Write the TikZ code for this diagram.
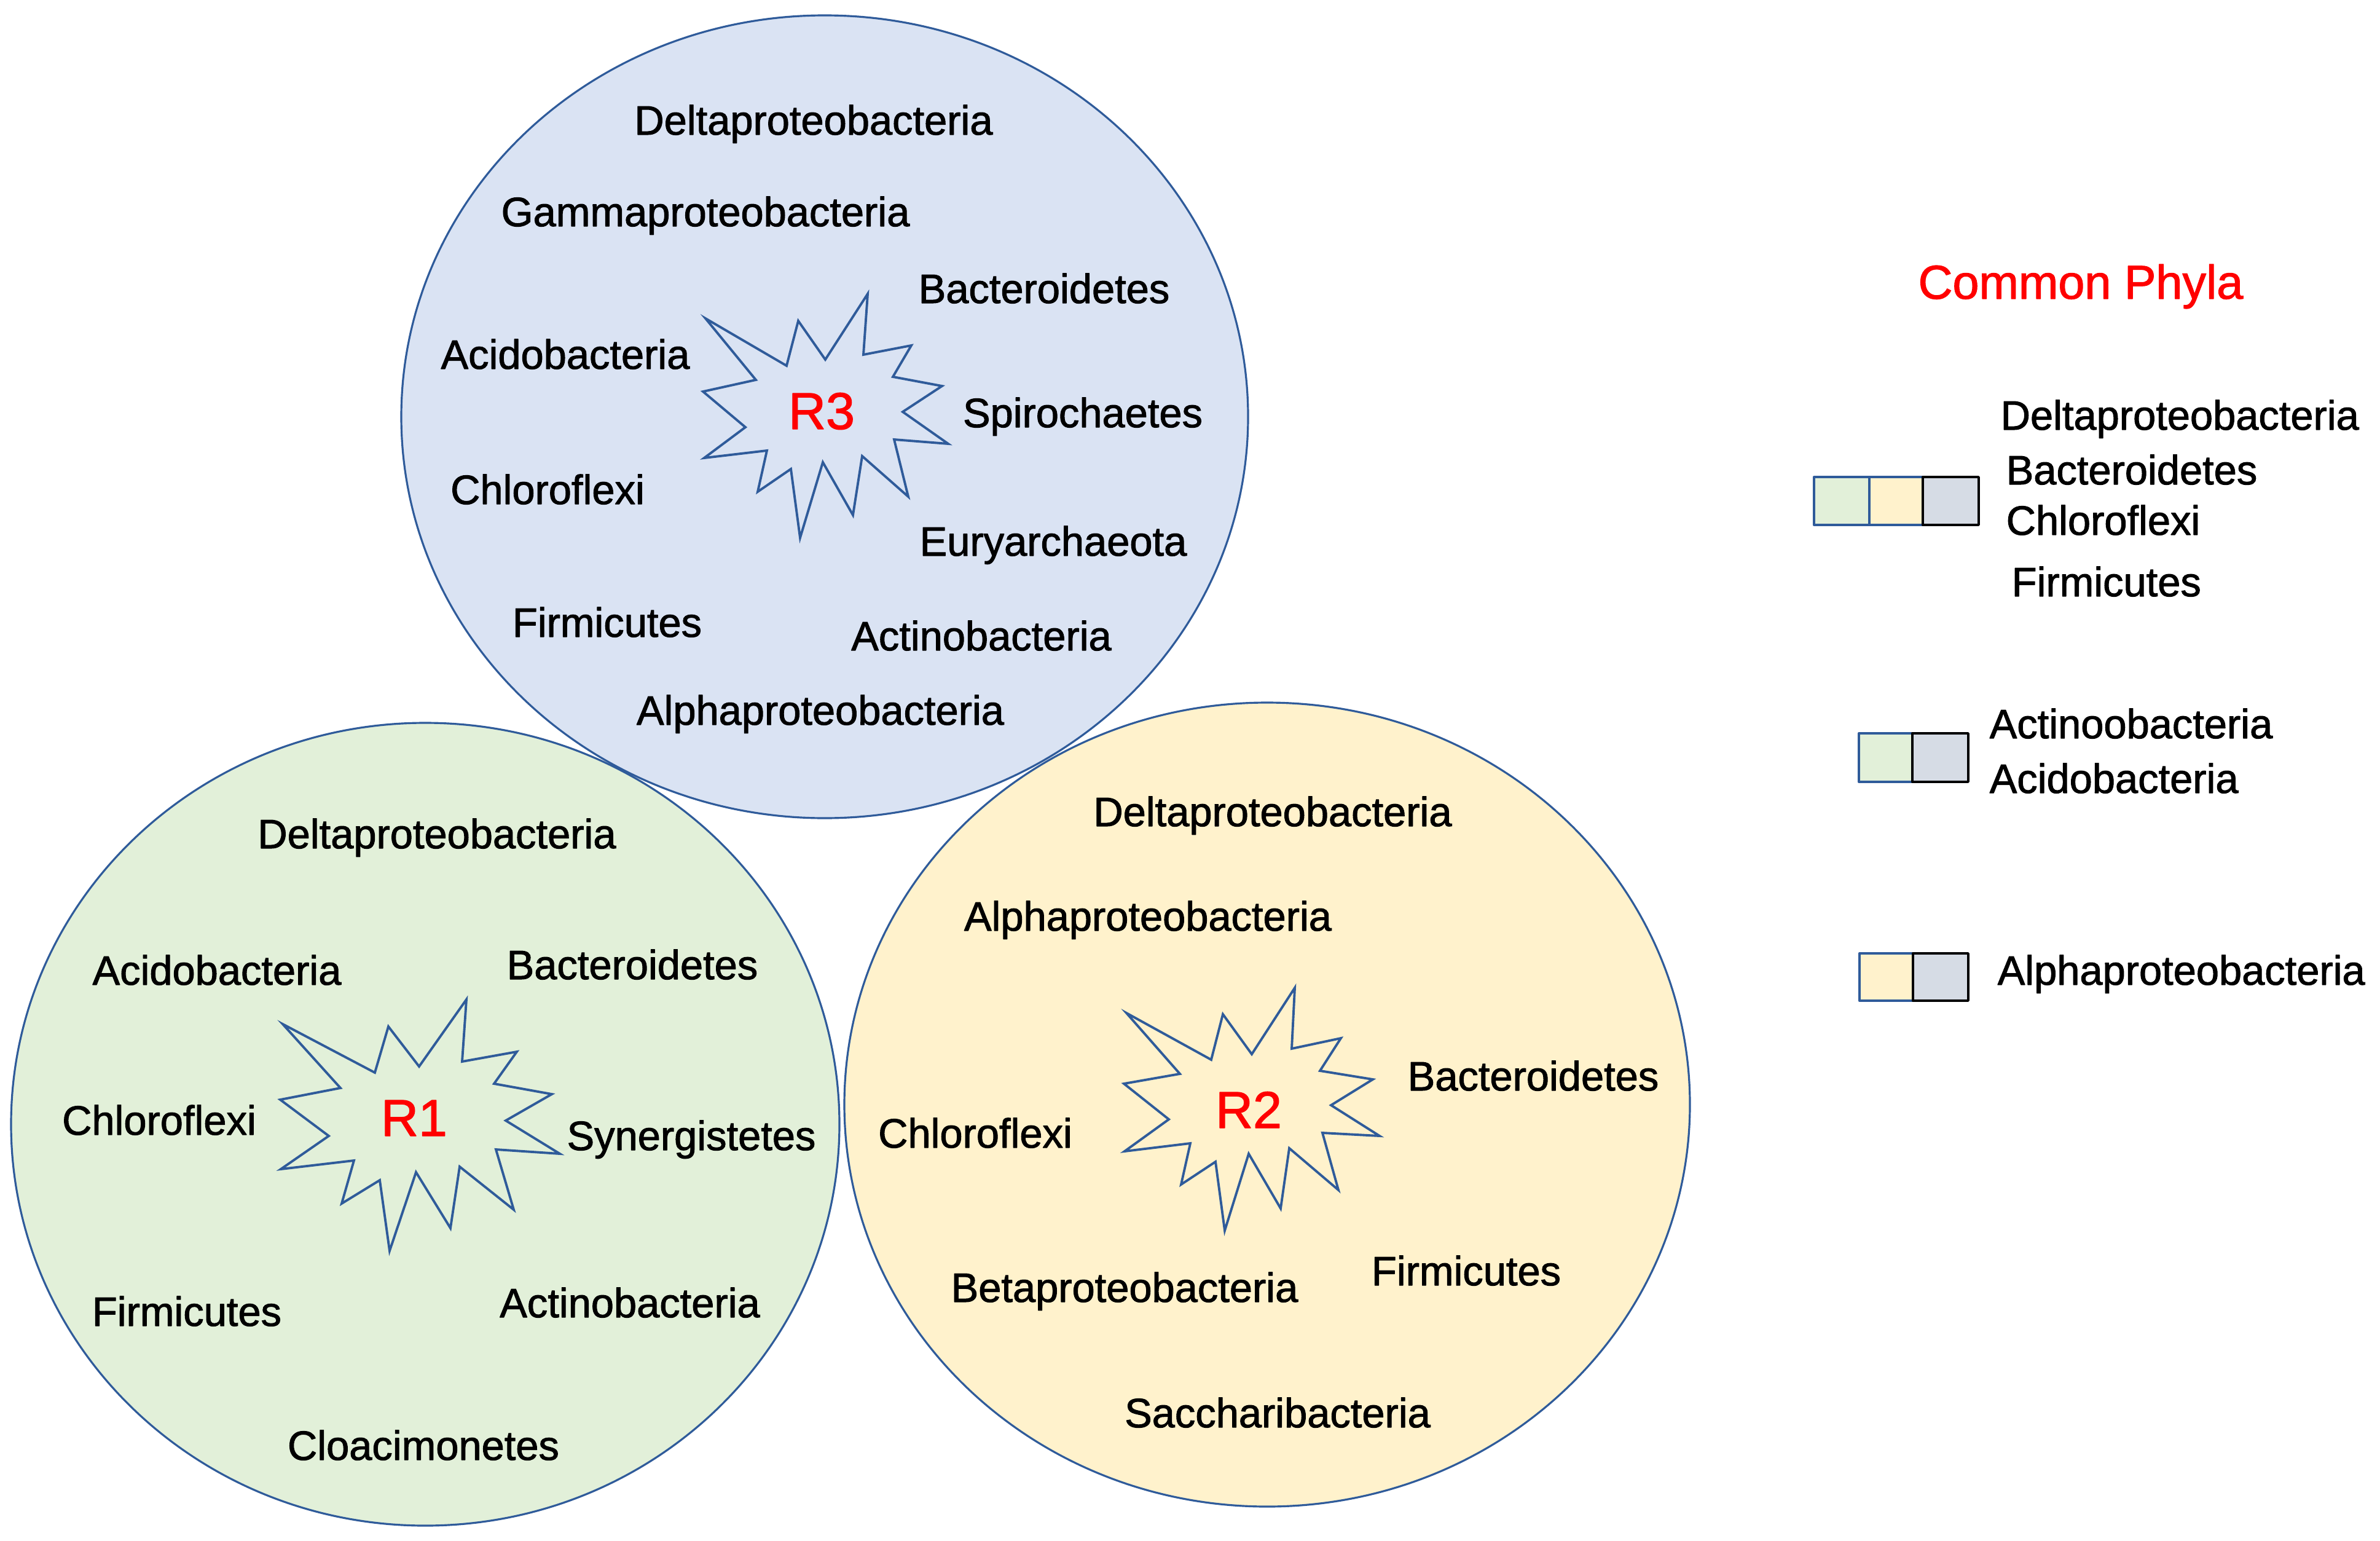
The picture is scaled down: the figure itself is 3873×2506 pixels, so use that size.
\documentclass[tikz,border=0pt]{standalone}
\usepackage{fontspec}
\setmainfont{Liberation Sans}
\newfontfamily\phylafont{Liberation Sans}[FakeBold=1.5]
\usepackage{xcolor}
\usepackage{tikz}

\definecolor{greenfill}{HTML}{E2F0D9}
\definecolor{yellowfill}{HTML}{FFF2CC}
\definecolor{bluefill}{HTML}{DAE3F3}
\definecolor{greyfill}{HTML}{D6DCE5}
\definecolor{edgeblue}{HTML}{2F5B9A}
\newcommand{\taxfont}{\phylafont\fontsize{19}{23}\selectfont}
\newcommand{\regfont}{\phylafont\fontsize{24}{29}\selectfont}
\newcommand{\headfont}{\phylafont\fontsize{22}{26}\selectfont}

\begin{document}
\begin{tikzpicture}[line cap=round,line join=round,x=0.01cm,y=-0.01cm,
  taxon/.style={font=\taxfont,anchor=base,inner sep=0pt},
  keytext/.style={font=\taxfont,anchor=base west,inner sep=0pt},
  region/.style={font=\regfont,text=red,anchor=base,inner sep=0pt},
  ring/.style={draw=edgeblue,line width=0.9pt},
  burst/.style={draw=edgeblue,line width=1.1pt,line join=miter},
  swatch/.style={line width=1pt}]
\useasboundingbox (0,0) rectangle (3873,2506);

% the three reactors
\draw[ring,fill=greenfill] (692,1829) ellipse [x radius=674, y radius=653];
\draw[ring,fill=yellowfill] (2062,1797) ellipse [x radius=688, y radius=654];
\draw[ring,fill=bluefill] (1342,678) ellipse [x radius=689, y radius=653];

% bursts
\draw[burst] (1148,518) -- (1280,595) -- (1299,522) -- (1343,585) -- (1412,478)
  -- (1405,577) -- (1483,562) -- (1453,613) -- (1533,628) -- (1469,670)
  -- (1543,722) -- (1455,715) -- (1478,808) -- (1403,742) -- (1388,838)
  -- (1339,752) -- (1302,875) -- (1287,763) -- (1233,800) -- (1248,733)
  -- (1146,745) -- (1213,695) -- (1144,637) -- (1230,618) -- cycle;
\draw[burst] (460,1666) -- (610,1745) -- (632,1670) -- (682,1735) -- (759,1626)
  -- (752,1727) -- (841,1711) -- (804,1763) -- (898,1780) -- (823,1823)
  -- (911,1877) -- (807,1870) -- (836,1968) -- (748,1898) -- (733,1998)
  -- (677,1907) -- (634,2035) -- (618,1920) -- (556,1958) -- (576,1888)
  -- (457,1902) -- (535,1848) -- (456,1789) -- (554,1770) -- cycle;
\draw[burst] (1833,1648) -- (1971,1724) -- (1990,1650) -- (2037,1715) -- (2107,1607)
  -- (2102,1706) -- (2182,1689) -- (2148,1742) -- (2234,1756) -- (2166,1798)
  -- (2245,1848) -- (2152,1843) -- (2178,1936) -- (2098,1868) -- (2084,1966)
  -- (2032,1877) -- (1993,2002) -- (1978,1890) -- (1922,1927) -- (1937,1860)
  -- (1830,1873) -- (1902,1821) -- (1829,1763) -- (1920,1747) -- cycle;

\node[region] (lab3) at (1337,698) {R3};
\node[region] (lab1) at (674,1848) {R1};
\node[region] (lab2) at (2032,1835) {R2};

% R3
\node[taxon] (r3delta) at (1324,219) {Deltaproteobacteria};
\node[taxon] (r3gamma) at (1148,368) {Gammaproteobacteria};
\node[taxon] (r3bact) at (1699,493) {Bacteroidetes};
\node[taxon] (r3acido) at (920,600) {Acidobacteria};
\node[taxon] (r3spiro) at (1762,695) {Spirochaetes};
\node[taxon] (r3chloro) at (891,820) {Chloroflexi};
\node[taxon] (r3eury) at (1714,904) {Euryarchaeota};
\node[taxon] (r3firm) at (988,1036) {Firmicutes};
\node[taxon] (r3actino) at (1597,1058) {Actinobacteria};
\node[taxon] (r3alpha) at (1335,1179) {Alphaproteobacteria};

% R1
\node[taxon] (r1delta) at (711,1380) {Deltaproteobacteria};
\node[taxon] (r1acido) at (353,1602) {Acidobacteria};
\node[taxon] (r1bact) at (1029,1593) {Bacteroidetes};
\node[taxon] (r1chloro) at (259,1846) {Chloroflexi};
\node[taxon] (r1syn) at (1125,1871) {Synergistetes};
\node[taxon] (r1firm) at (304,2157) {Firmicutes};
\node[taxon] (r1actino) at (1025,2143) {Actinobacteria};
\node[taxon] (r1cloaci) at (689,2375) {Cloacimonetes};

% R2
\node[taxon] (r2delta) at (2071,1344) {Deltaproteobacteria};
\node[taxon] (r2alpha) at (1868,1514) {Alphaproteobacteria};
\node[taxon] (r2bact) at (2495,1774) {Bacteroidetes};
\node[taxon] (r2chloro) at (1587,1867) {Chloroflexi};
\node[taxon] (r2beta) at (1830,2118) {Betaproteobacteria};
\node[taxon] (r2firm) at (2386,2091) {Firmicutes};
\node[taxon] (r2sacch) at (2079,2322) {Saccharibacteria};

% key
\node[font=\headfont,text=red,anchor=base,inner sep=0pt] (keyhead) at (3386,486) {Common Phyla};

\draw[swatch,draw=edgeblue,fill=greenfill] (2952,776) rectangle (3042,854);
\draw[swatch,draw=edgeblue,fill=yellowfill] (3042,776) rectangle (3129,854);
\draw[swatch,draw=black,fill=greyfill] (3129,776) rectangle (3220,854);
\node[keytext] (k1delta) at (3255,699) {Deltaproteobacteria};
\node[keytext] (k1bact) at (3264,788) {Bacteroidetes};
\node[keytext] (k1chloro) at (3264,870) {Chloroflexi};
\node[keytext] (k1firm) at (3273,970) {Firmicutes};

\draw[swatch,draw=edgeblue,fill=greenfill] (3025,1193) rectangle (3112,1272);
\draw[swatch,draw=black,fill=greyfill] (3112,1193) rectangle (3203,1272);
\node[keytext] (k2actino) at (3237,1201) {Actinoobacteria};
\node[keytext] (k2acido) at (3237,1290) {Acidobacteria};

\draw[swatch,draw=edgeblue,fill=yellowfill] (3026,1551) rectangle (3113,1628);
\draw[swatch,draw=black,fill=greyfill] (3113,1551) rectangle (3203,1628);
\node[keytext] (k3alpha) at (3250,1602) {Alphaproteobacteria};
\end{tikzpicture}
\end{document}
